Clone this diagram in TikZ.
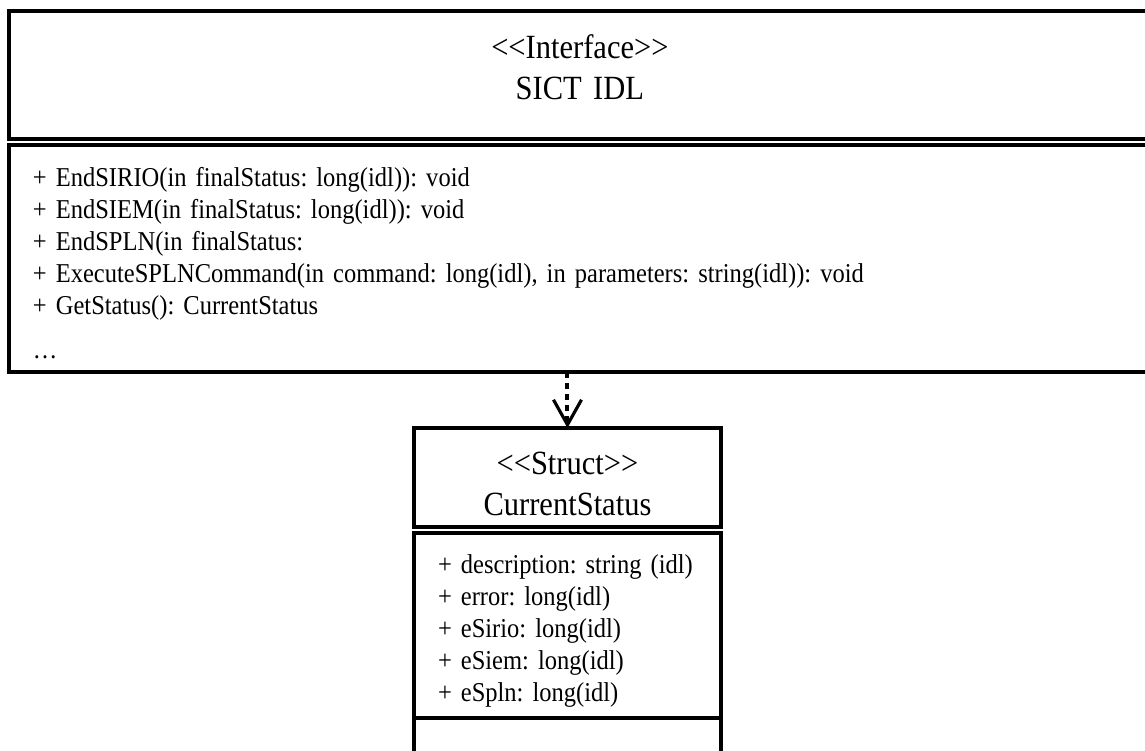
\documentclass[tikz,border=0pt]{standalone}
\usepackage{fontspec}
\setmainfont{Liberation Serif}[FakeStretch=0.9]
\usetikzlibrary{arrows.meta}
\newcommand{\stereotype}[1]{<\kern0pt<#1>\kern0pt>}
\frenchspacing

\begin{document}
\begin{tikzpicture}[x=0.02cm,y=-0.02cm,
compartment/.style={draw,line width=2pt,anchor=north west,outer sep=0pt,inner xsep=0.48cm,inner ysep=0pt,align=left,font=\fontsize{15.5}{18.2}\selectfont},
headline/.style={compartment,align=center,font=\fontsize{19.3}{23.3}\selectfont},
dependency/.style={line width=2.3pt,dash pattern=on 0.12cm off 0.1cm,-{Straight Barb[length=0.5cm,width=0.56cm,line width=1.8pt]}}]
\useasboundingbox (0,0) rectangle (1145,750);
\clip (0,0) rectangle (1145,750);
\node[headline,text width=21.88cm,minimum height=2.56cm] (SICTIDL) at (9,11) {\stereotype{Interface}\\SICT IDL\rule[-8.5pt]{0pt}{8.5pt}};
\node[compartment,text width=21.88cm,minimum height=4.54cm] (SICTIDLOps) at (9,145) {\rule{0pt}{16.5pt}+ EndSIRIO(in finalStatus: long(idl)): void\\
+ EndSIEM(in finalStatus: long(idl)): void\\
+ EndSPLN(in finalStatus:\\
+ ExecuteSPLNCommand(in command: long(idl), in parameters: string(idl)): void\\
+ GetStatus(): CurrentStatus\\[7pt]
…};
\node[headline,text width=5.18cm,minimum height=1.98cm] (CurrentStatus) at (414,428) {\rule{0pt}{20pt}\stereotype{Struct}\\CurrentStatus};
\node[compartment,text width=5.18cm,minimum height=3.7cm] (CurrentStatusAttr) at (414,533) {\rule{0pt}{17pt}+ description: string (idl)\\
+ error: long(idl)\\
+ eSirio: long(idl)\\
+ eSiem: long(idl)\\
+ eSpln: long(idl)};
\node[compartment,text width=5.18cm,minimum height=1.6cm] (CurrentStatusOps) at (CurrentStatusAttr.south west) {};
\draw[dependency] (CurrentStatus.north |- SICTIDLOps.south) -- (CurrentStatus.north);
\end{tikzpicture}
\end{document}
